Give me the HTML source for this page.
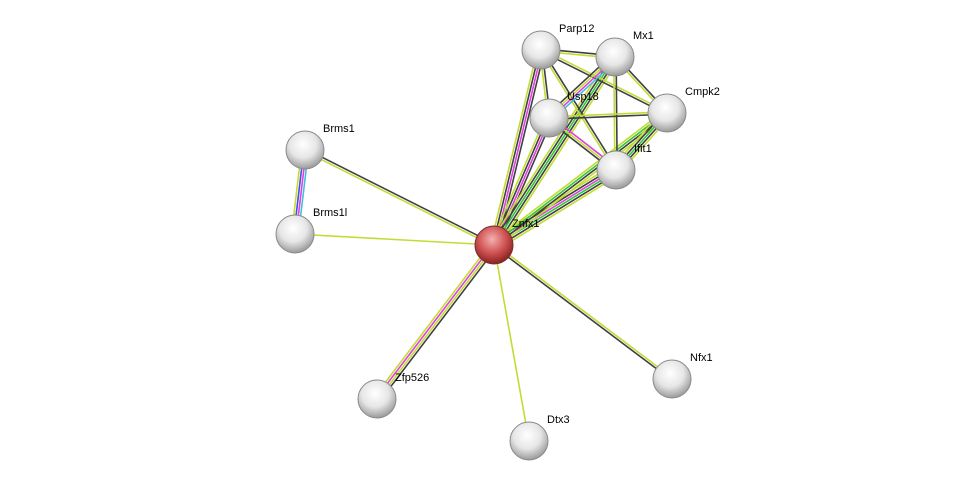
<!DOCTYPE html>
<html><head><meta charset="utf-8"><style>
html,body{margin:0;padding:0;background:#fff;width:975px;height:487px;overflow:hidden}
svg text{font-family:"Liberation Sans",sans-serif;font-size:11px;fill:#000}
</style></head><body>
<svg id="s" width="975" height="487" viewBox="0 0 975 487" xmlns="http://www.w3.org/2000/svg">
<defs>
<radialGradient id="g" cx="45%" cy="35%" r="65%">
<stop offset="0" stop-color="#ffffff"/><stop offset="0.55" stop-color="#e6e6e6"/><stop offset="1" stop-color="#9a9a9a"/>
</radialGradient>
<radialGradient id="r" cx="45%" cy="35%" r="65%">
<stop offset="0" stop-color="#f4b0b0"/><stop offset="0.55" stop-color="#d05454"/><stop offset="1" stop-color="#8a2020"/>
</radialGradient>
</defs>
<g id="e"></g><g id="n"></g>
</svg>
<script>
var N={Parp12:[541,50],Mx1:[615,57],Usp18:[549,118],Cmpk2:[667,113],Ifit1:[616,170],Brms1:[305,150],Brms1l:[295,234],Znfx1:[494,245],Zfp526:[377,399],Dtx3:[529,441],Nfx1:[672,379]};
var C={y:"#c2dc34",k:"#404040",m:"#e040e0",g:"#30c830",c:"#40c0e0",b:"#4050e0"};
var E=[["Znfx1","Parp12","ykmk"],["Znfx1","Usp18","ykmk"],["Znfx1","Mx1","ykgky"],["Znfx1","Ifit1","ykmgky"],["Znfx1","Cmpk2","ygky"],["Znfx1","Brms1","yk"],["Znfx1","Brms1l","y"],["Znfx1","Zfp526","kymy"],["Znfx1","Dtx3","y"],["Znfx1","Nfx1","yk"],["Brms1","Brms1l","cmby"],["Parp12","Mx1","ky"],["Parp12","Usp18","ky"],["Parp12","Cmpk2","yk"],["Parp12","Ifit1","ky"],["Mx1","Usp18","cmyk"],["Mx1","Cmpk2","ky"],["Mx1","Ifit1","ky"],["Usp18","Cmpk2","yk"],["Usp18","Ifit1","myk"],["Cmpk2","Ifit1","ykgky"]];
var ns="http://www.w3.org/2000/svg",eg=document.getElementById("e"),ng=document.getElementById("n");
E.forEach(function(e){var a=N[e[0]],b=N[e[1]],dx=b[0]-a[0],dy=b[1]-a[1],L=Math.hypot(dx,dy),px=-dy/L,py=dx/L,k=e[2].length;
for(var i=0;i<k;i++){var o=(i-(k-1)/2)*2.3,l=document.createElementNS(ns,"line");
l.setAttribute("x1",a[0]+px*o);l.setAttribute("y1",a[1]+py*o);l.setAttribute("x2",b[0]+px*o);l.setAttribute("y2",b[1]+py*o);
l.setAttribute("stroke",C[e[2][i]]);l.setAttribute("stroke-width","1.6");eg.appendChild(l);}});
for(var n in N){var p=N[n],c=document.createElementNS(ns,"circle");c.setAttribute("cx",p[0]);c.setAttribute("cy",p[1]);c.setAttribute("r",19);
c.setAttribute("fill",n=="Znfx1"?"url(#r)":"url(#g)");c.setAttribute("stroke",n=="Znfx1"?"#7a2a2a":"#8a8a8a");c.setAttribute("stroke-width","1");ng.appendChild(c);
var t=document.createElementNS(ns,"text");t.setAttribute("x",p[0]+18);t.setAttribute("y",p[1]-18);t.textContent=n;ng.appendChild(t);}
</script>
</body></html>
